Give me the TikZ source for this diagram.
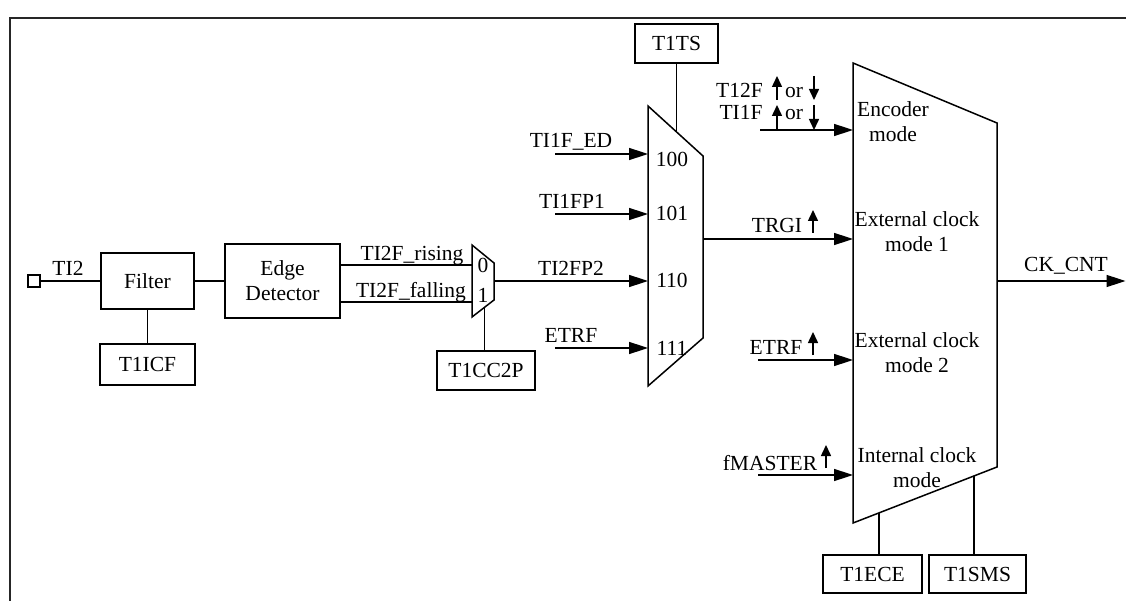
\documentclass[tikz,border=0pt]{standalone}
\usepackage{fontspec}
\setmainfont{Liberation Serif}
\usetikzlibrary{arrows.meta}

\tikzset{
  box/.style={draw, rectangle, inner sep=0pt},
  lbl/.style={anchor=base, inner sep=0pt},
  modetext/.style={align=center, inner sep=0pt},
  tick/.style={-{Triangle[length=11pt,width=10pt]}},
  >={Triangle[length=19pt,width=12pt]}
}

\begin{document}
\begin{tikzpicture}[x=1pt, y=-1pt, line width=1.5pt, font=\fontsize{21.5}{25}\selectfont]
\useasboundingbox (0,0) rectangle (1126,601);
\draw[line width=2pt, black!85] (10,601) -- (10,18) -- (1126,18);

\node[box, minimum width=12pt, minimum height=12pt] (pin) at (34,281) {};
\node[box, minimum width=93pt, minimum height=56pt] (filter) at (147.5,281) {Filter};
\node[box, minimum width=95pt, minimum height=41pt] (icf) at (147.5,364.5) {T1ICF};
\node[box, minimum width=115pt, minimum height=74pt, align=center] (edge) at (282.5,281) {Edge\\Detector};
\node[box, minimum width=98pt, minimum height=39pt] (cc2p) at (486,370.5) {T1CC2P};
\node[box, minimum width=83pt, minimum height=39pt] (ts) at (676.5,43.5) {T1TS};
\node[box, minimum width=99pt, minimum height=38pt] (ece) at (872.5,574) {T1ECE};
\node[box, minimum width=97pt, minimum height=38pt] (sms) at (977.5,574) {T1SMS};

\coordinate (sm1) at (472,245);
\coordinate (sm2) at (494,263);
\coordinate (sm3) at (494,300);
\coordinate (sm4) at (472,317);
\draw (sm1) -- (sm2) -- (sm3) -- (sm4) -- cycle;
\coordinate (selr) at (472,265);
\coordinate (self) at (472,302);
\coordinate (selo) at (494,281);
\coordinate (sels) at (484.5,307.3);

\coordinate (bm1) at (648,106);
\coordinate (bm2) at (703,156);
\coordinate (bm3) at (703,338);
\coordinate (bm4) at (648,386);
\draw (bm1) -- (bm2) -- (bm3) -- (bm4) -- cycle;
\coordinate (bmts) at (676.5,131.9);
\coordinate (i100) at (648,154);
\coordinate (i101) at (648,214);
\coordinate (i110) at (648,281);
\coordinate (i111) at (648,348);
\coordinate (s100) at (555,154);
\coordinate (s101) at (555,214);
\coordinate (s111) at (555,348);
\coordinate (bmo) at (703,239);

\coordinate (cm1) at (853,63);
\coordinate (cm2) at (997,123);
\coordinate (cm3) at (997,467);
\coordinate (cm4) at (853,523);
\draw (cm1) -- (cm2) -- (cm3) -- (cm4) -- cycle;
\coordinate (enc) at (853,130);
\coordinate (ext1) at (853,239);
\coordinate (ext2) at (853,360);
\coordinate (int) at (853,475);
\coordinate (senc) at (760,130);
\coordinate (sext2) at (758,360);
\coordinate (sint) at (758,475);
\coordinate (cko) at (997,281);
\coordinate (ckend) at (1125.5,281);
\coordinate (cmece) at (879,512.9);
\coordinate (cmsms) at (974,475.9);

\draw (pin) -- (filter);
\draw (filter) -- (edge);
\draw (filter) -- (icf);
\draw (selr -| edge.east) -- (selr);
\draw (self -| edge.east) -- (self);
\draw (sels) -- (sels |- cc2p.north);
\draw[->] (selo) -- (i110);
\draw (ts) -- (bmts);
\draw[->] (s100) -- (i100);
\draw[->] (s101) -- (i101);
\draw[->] (s111) -- (i111);
\draw[->] (bmo) -- (ext1);
\draw[->] (senc) -- (enc);
\draw[->] (sext2) -- (ext2);
\draw[->] (sint) -- (int);
\draw[->] (cko) -- (ckend);
\draw (cmece) -- (cmece |- ece.north);
\draw (cmsms) -- (cmsms |- sms.north);

\node[lbl] (lti2) at (68,276) {TI2};
\node[lbl] (lrise) at (412,261) {TI2F\_rising};
\node[lbl] (lfall) at (411,298) {TI2F\_falling};
\node[lbl] (lzero) at (483,273) {0};
\node[lbl] (lone) at (483,303) {1};
\node[lbl] (led) at (571,148) {TI1F\_ED};
\node[lbl] (lfp1) at (572,209) {TI1FP1};
\node[lbl] (lfp2) at (571,276) {TI2FP2};
\node[lbl] (letrf) at (571,342) {ETRF};
\node[lbl] (n100) at (672,167) {100};
\node[lbl] (n101) at (672,221) {101};
\node[lbl] (n110) at (672,288) {110};
\node[lbl] (n111) at (672,355) {111};
\node[lbl] (lt12f) at (739.5,98) {T12F};
\node[lbl] (lor1) at (794,98) {or};
\node[lbl] (lti1f) at (741,120) {TI1F};
\node[lbl] (lor2) at (794,120) {or};
\node[lbl] (ltrgi) at (777,233) {TRGI};
\node[lbl] (letrf2) at (776,354) {ETRF};
\node[lbl] (lfm) at (770,470) {fMASTER};
\node[lbl] (lck) at (1066,272) {CK\_CNT};

\node[modetext] (menc) at (893,122) {Encoder\\mode};
\node[modetext] (mext1) at (917,232) {External clock\\mode 1};
\node[modetext] (mext2) at (917,353) {External clock\\mode 2};
\node[modetext] (mint) at (917,468) {Internal clock\\mode};

\draw[tick] (777,100) -- (777,76);
\draw[tick] (814,76) -- (814,100);
\draw[tick] (777,130) -- (777,105);
\draw[tick] (814,105) -- (814,130);
\draw[tick] (813,233) -- (813,210);
\draw[tick] (813,355) -- (813,332);
\draw[tick] (826,468) -- (826,445);
\end{tikzpicture}
\end{document}
